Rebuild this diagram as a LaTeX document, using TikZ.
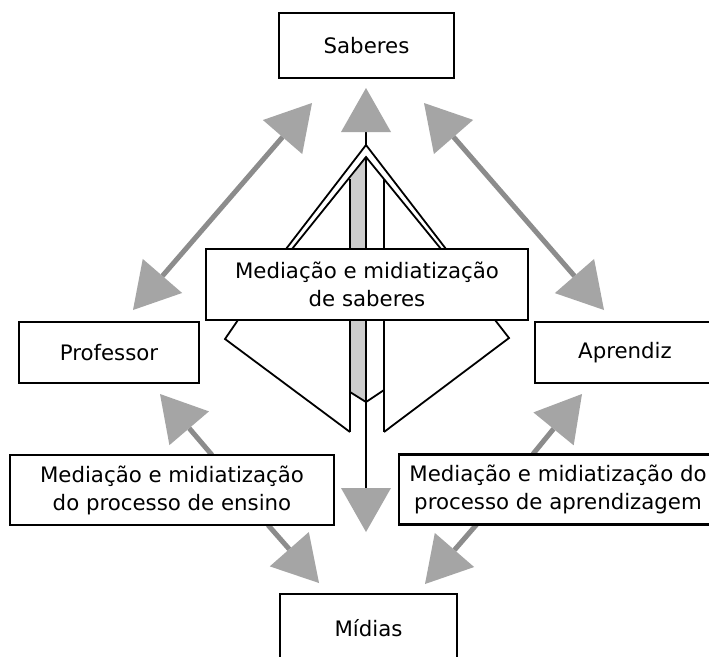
\documentclass[tikz,border=0pt]{standalone}
\usepackage{fontspec}
\setmainfont{DejaVu Sans}
\usetikzlibrary{arrows.meta}
\definecolor{arrowgray}{RGB}{165,165,165}
\definecolor{shaftgray}{RGB}{140,140,140}
\definecolor{stripgray}{RGB}{205,205,205}
\tikzset{
  box/.style={draw, line width=2.2pt, fill=white, inner sep=0pt, align=center,
              font=\fontsize{21.3}{28}\selectfont},
  kite/.style={line width=1.8pt, line join=miter},
  ghead/.tip={Triangle[length=45pt,width=52pt,color=arrowgray,line width=0pt]},
  chead/.tip={Triangle[length=44pt,width=50pt,color=arrowgray,line width=0pt]},
  garrow/.style={draw=shaftgray, line width=5pt},
}
\begin{document}
\begin{tikzpicture}[x=1pt,y=-1pt]
\useasboundingbox (0,0) rectangle (709,656);
\clip (0,0) rectangle (709,656);
\fill[white] (0,0) rectangle (709,656);

% coordinates
\coordinate (sp1) at (312,103);
\coordinate (sp2) at (133,310);
\coordinate (sa1) at (424,103);
\coordinate (sa2) at (604,310);
\coordinate (lp1) at (212,455);
\coordinate (lp2) at (160,394);
\coordinate (lm1) at (268,525);
\coordinate (lm2) at (319,583);
\coordinate (ra1) at (533,454);
\coordinate (ra2) at (582,394);
\coordinate (rm1) at (477,524);
\coordinate (rm2) at (425,584);
\coordinate (upTip) at (366,88);
\coordinate (apexO) at (366,145);
\coordinate (apexI) at (366,157);
\coordinate (downTip) at (366,532);

% central shaded strip
\fill[stripgray] (350,179) -- (366,157) -- (366,402) -- (350,392) -- cycle;

% central kite
\draw[kite] (350,432) -- (225,339) -- (238,320) -- (286,249) -- (apexO)
            -- (446,249) -- (495,320) -- (509,338) -- (384,432);
\draw[kite] (292,249) -- (apexI) -- (441,249);
\draw[kite] (350,179) -- (350,432);
\draw[kite] (384,179) -- (384,432);
\draw[kite] (350,392) -- (366,402) -- (384,390);
\draw[kite, -chead] (apexO) -- (upTip);
\draw[kite, -chead] (apexI) -- (downTip);

% gray arrows
\draw[garrow, ghead-ghead] (sp1) -- (sp2);
\draw[garrow, ghead-ghead] (sa1) -- (sa2);
\draw[garrow, -ghead] (lp1) -- (lp2);
\draw[garrow, -ghead] (lm1) -- (lm2);
\draw[garrow, -ghead] (ra1) -- (ra2);
\draw[garrow, -ghead] (rm1) -- (rm2);

% boxes
\node[box, minimum width=175pt, minimum height=65pt] (sab) at (366.5,45.5) {Saberes};
\node[box, minimum width=322pt, minimum height=71pt] (med) at (367,284.5)
  {Mediação e midiatização\\de saberes};
\node[box, minimum width=180pt, minimum height=61pt] (prof) at (109,352.5) {Professor};
\node[box, minimum width=180pt, minimum height=61pt] (apr) at (625,352.5) {Aprendiz};
\node[box, minimum width=324pt, minimum height=70pt] (lens) at (172,490)
  {Mediação e midiatização\\do processo de ensino};
\node[box, minimum width=318pt, minimum height=70pt] (rapr) at (558,489.5)
  {Mediação e midiatização do\\processo de aprendizagem};
\node[box, minimum width=177pt, minimum height=68pt] (mid) at (368.5,628) {Mídias};
\end{tikzpicture}
\end{document}
